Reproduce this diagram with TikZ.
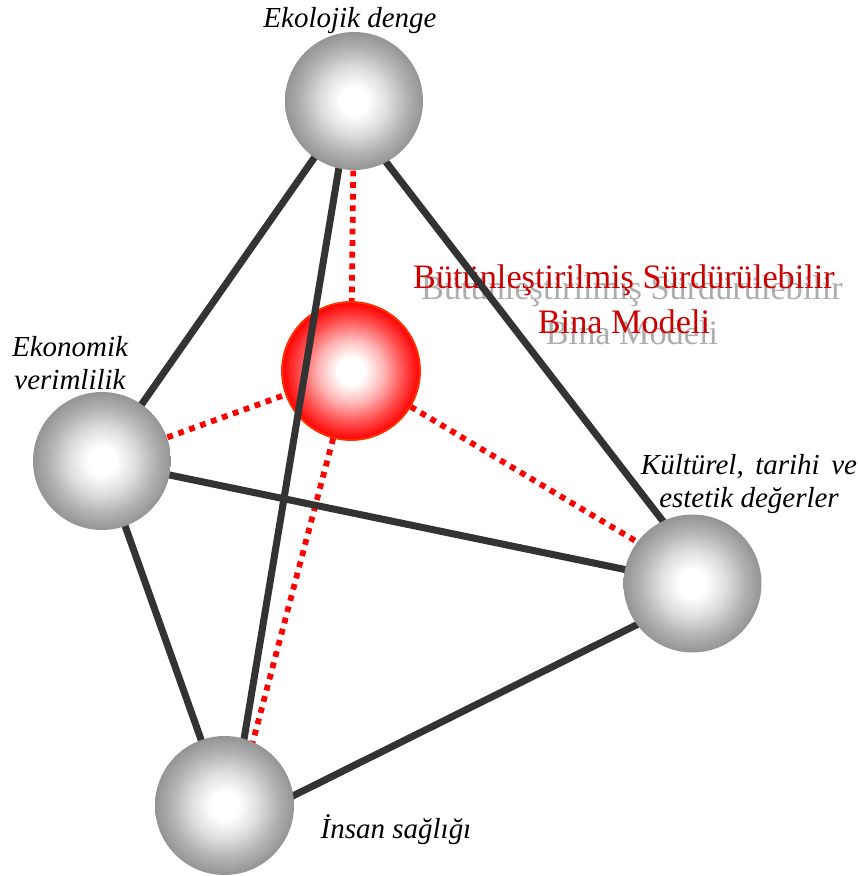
\documentclass[tikz,border=0pt]{standalone}
\usepackage{fontspec}
\setmainfont{Liberation Serif}
\definecolor{titlered}{RGB}{204,0,0}
\definecolor{barcol}{RGB}{51,51,51}
\definecolor{rimcol}{RGB}{255,51,0}
\pgfdeclareradialshading{greyglow}{\pgfpoint{0bp}{0bp}}{color(0bp)=(white); color(5bp)=(white); color(12bp)=(black!13); color(19bp)=(black!30); color(25bp)=(black!42); color(50bp)=(black!42)}
\pgfdeclareradialshading{redglow}{\pgfpoint{0bp}{0bp}}{color(0bp)=(white); color(5bp)=(white); color(12bp)=(red!30); color(19bp)=(red!70); color(25bp)=(red); color(50bp)=(red)}
\pgfdeclarelayer{bg}
\pgfdeclarelayer{mid}
\pgfsetlayers{bg,mid,main}
\tikzset{
  ball/.style={circle, minimum size=2.76cm, inner sep=0pt},
  greyball/.style={ball, shade, shading=greyglow},
  redball/.style={ball, shade, shading=redglow, draw=rimcol, line width=1.1pt},
  bar/.style={line width=4pt, draw=barcol},
  dots/.style={line width=3.3pt, draw=red, dash pattern=on 3.3pt off 3.3pt},
  lbl/.style={font=\fontsize{16.5}{19}\selectfont\itshape, align=center},
  titletxt/.style={font=\fontsize{19.5}{25.6}\selectfont, align=center}
}
\begin{document}
\begin{tikzpicture}[x=0.02cm,y=-0.02cm]
\useasboundingbox (0,0) rectangle (858,876);
% spheres of the four values
\node[greyball] (eko) at (354,101) {};
\node[greyball] (ekon) at (102,461) {};
\node[greyball] (kult) at (692.5,583.5) {};
\node[greyball, minimum size=2.78cm] (insan) at (224.5,805.5) {};
% model in the middle
\begin{pgfonlayer}{mid}
\node[redball] (bina) at (351,371) {};
\end{pgfonlayer}
\begin{pgfonlayer}{bg}
\node[titletxt, text=black!32] (golge) at (632,310) {Bütünleştirilmiş Sürdürülebilir\\Bina Modeli};
\node[titletxt, text=titlered] (model) at (624,299) {Bütünleştirilmiş Sürdürülebilir\\Bina Modeli};
\draw[dots] (eko.center) -- (bina.center);
\draw[dots] (ekon.center) -- (bina.center);
\draw[dots] (bina.center) -- ([yshift=0.17cm]kult.center);
\draw[dots] (bina.center) -- ([xshift=0.23cm]insan.center);
\end{pgfonlayer}
% edges
\begin{pgfonlayer}{mid}
\draw[bar] (eko.center) -- (ekon.center);
\draw[bar] ([xshift=-0.3cm]eko.center) -- ([xshift=0.37cm]kult.center);
\draw[bar] ([xshift=-0.08cm]eko.center) -- ([xshift=0.17cm]insan.center);
\draw[bar] (ekon.center) -- (kult.center);
\draw[bar] (ekon.center) -- (insan.center);
\draw[bar] ([yshift=-0.27cm]kult.center) -- ([yshift=-0.49cm]insan.center);
\end{pgfonlayer}
% labels
\node[lbl, anchor=base] (ekolbl) at (350,27) {Ekolojik denge};
\node[lbl] (ekonlbl) at (70,363) {Ekonomik\\verimlilik};
\node[lbl] (kultlbl) at (749,484) {Kültürel,\hspace{0.15em} tarihi\hspace{0.15em} ve\\estetik değerler};
\node[lbl, anchor=base] (insanlbl) at (396,838) {İnsan sağlığı};
\end{tikzpicture}
\end{document}
